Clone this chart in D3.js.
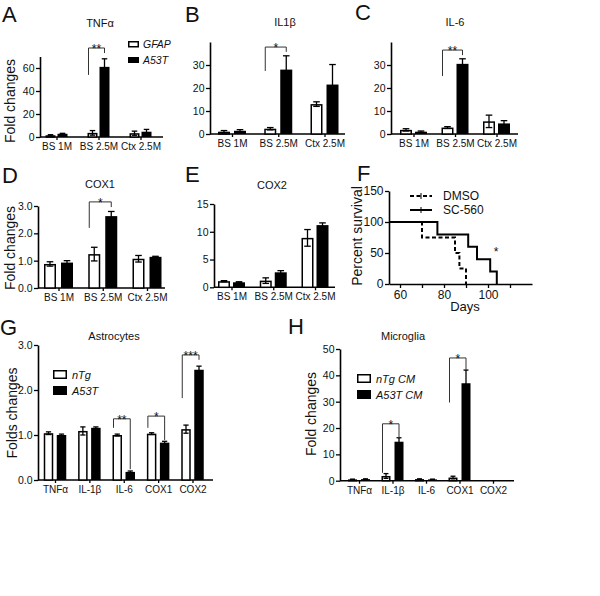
<!DOCTYPE html>
<html><head><meta charset="utf-8">
<script src="https://cdn.jsdelivr.net/npm/d3@7"></script>
<style>
body{margin:0;background:#fff}
svg{display:block}
text{font-family:"Liberation Sans",Arial,Helvetica,sans-serif;fill:#111}
</style>
</head><body>
<svg id="c" width="600" height="596"></svg>
<script>
// ---------------- data ----------------
const regionGroups = ["BS 1M", "BS 2.5M", "Ctx 2.5M"];
const legendAB = ["GFAP", "A53T"];

const tnfGFAP = [1.5, 3.6, 3.3],   tnfGFAPErr = [0.5, 2.0, 1.8];
const tnfA53T = [2.8, 61, 4.6],    tnfA53TErr = [0.4, 7, 2.0];

const il1GFAP = [1.0, 2.3, 13.0],  il1GFAPErr = [0.5, 0.5, 1.0];
const il1A53T = [1.4, 28, 21.5],   il1A53TErr = [0.5, 6, 8.7];

const il6GFAP = [1.8, 2.8, 5.5],   il6GFAPErr = [0.5, 0.4, 2.7];
const il6A53T = [1.0, 30.5, 4.6],  il6A53TErr = [0.3, 2.2, 1.2];

const cox1GFAP = [0.88, 1.24, 1.07], cox1GFAPErr = [0.08, 0.25, 0.12];
const cox1A53T = [0.93, 2.63, 1.14], cox1A53TErr = [0.07, 0.17, 0.02];

const cox2GFAP = [1.1, 1.2, 8.9],  cox2GFAPErr = [0.1, 0.5, 1.5];
const cox2A53T = [0.9, 2.7, 11.2], cox2A53TErr = [0.1, 0.3, 0.4];

const dmsoDays = [55, 70, 85, 87, 90];
const dmsoSurv = [100, 75, 50, 25, 0];
const scDays = [55, 77, 91, 95, 101, 104];
const scSurv = [100, 80, 60, 40, 20, 0];
const survivalLegend = ["DMSO", "SC-560"];

const cytokines = ["TNFα", "IL-1β", "IL-6", "COX1", "COX2"];
const astroNTg = [1.04, 1.09, 1.0, 1.03, 1.13],  astroNTgErr = [0.03, 0.09, 0.02, 0.02, 0.09];
const astroA53T = [1.0, 1.16, 0.18, 0.83, 2.45], astroA53TErr = [0.02, 0.02, 0.02, 0.03, 0.08];
const legendG = ["nTg", "A53T"];

const microNTg = [0.5, 1.8, 0.6, 1.2, 0],  microNTgErr = [0.1, 0.9, 0.1, 0.5, 0];
const microA53T = [0.6, 14.8, 0.5, 37, 0], microA53TErr = [0.1, 1.5, 0.1, 5, 0];
const legendH = ["nTg CM", "A53T CM"];

// ---------------- drawing ----------------
const svg = d3.select("#c");
svg.append("rect").attr("width", 600).attr("height", 596).attr("fill", "#fff");
const FS = 10;

function barPanel(o) {
  const g = svg.append("g");
  const x = d3.scalePoint().domain(o.cats).range([o.c0, o.c1]);
  const y = d3.scaleLinear().domain(o.dom).range([o.yb, o.yt]);
  const ya = g.append("g").attr("transform", `translate(${o.x0},0)`)
    .call(d3.axisLeft(y).tickValues(o.ticks).tickSize(4).tickSizeOuter(0).tickPadding(1.5));
  ya.select(".domain").attr("stroke-width", 1.6);
  ya.selectAll(".tick line").attr("stroke-width", 1.3);
  ya.selectAll(".tick text").attr("font-size", 10.5).attr("font-family", null).attr("fill", "#222");
  g.append("line").attr("x1", o.x0).attr("x2", o.x1).attr("y1", o.yb).attr("y2", o.yb)
    .attr("stroke", "#000").attr("stroke-width", 1.6);
  const xa = g.append("g").attr("transform", `translate(0,${o.yb})`)
    .call(d3.axisBottom(x).tickSize(3).tickPadding(3));
  xa.select(".domain").remove();
  xa.selectAll(".tick line").attr("stroke-width", 1.3);
  xa.selectAll(".tick text").attr("font-size", FS).attr("font-family", null).attr("fill", "#222");

  const rows = o.cats.map((c, i) => ({c, a: o.a[i], ae: o.ae[i], b: o.b[i], be: o.be[i]}));
  const ox = d => x(d.c) - o.gap / 2 - o.bw;
  const fx = d => x(d.c) + o.gap / 2;
  g.selectAll(".ob").data(rows).join("rect")
    .attr("x", d => ox(d) + 0.75).attr("width", o.bw - 1.5)
    .attr("y", d => y(d.a) + 0.75).attr("height", d => Math.max(0, y(0) - y(d.a) - 0.75))
    .attr("fill", "#fff").attr("stroke", "#000").attr("stroke-width", 1.5);
  g.selectAll(".fb").data(rows).join("rect")
    .attr("x", fx).attr("width", o.bw)
    .attr("y", d => y(d.b)).attr("height", d => y(0) - y(d.b))
    .attr("fill", "#000");
  const cw = o.bw * 0.55;
  function err(cx, v, e) {
    if (!e) return;
    g.append("line").attr("x1", cx).attr("x2", cx).attr("y1", y(v - e)).attr("y2", y(v + e))
      .attr("stroke", "#000").attr("stroke-width", 1.3);
    [v - e, v + e].forEach(t => g.append("line").attr("x1", cx - cw / 2).attr("x2", cx + cw / 2)
      .attr("y1", y(t)).attr("y2", y(t)).attr("stroke", "#000").attr("stroke-width", 1.3));
  }
  rows.forEach(d => { err(ox(d) + o.bw / 2, d.a, d.ae); err(fx(d) + o.bw / 2, d.b, d.be); });
  (o.br || []).forEach(b => {
    const r = rows.find(d => d.c === b.cat);
    const lx = ox(r) + 1, rx = fx(r) + o.bw / 2;
    g.append("path")
      .attr("d", `M${lx},${y(b.left)}V${y(b.top)}H${rx}V${y(b.right)}`)
      .attr("fill", "none").attr("stroke", "#333").attr("stroke-width", 1);
    g.append("text").attr("x", (lx + rx) / 2).attr("y", y(b.top) + 5)
      .attr("text-anchor", "middle").attr("font-size", 12).text(b.label);
  });
  return {x, y};
}

function txt(x, y, s, fs, opts = {}) {
  const t = svg.append("text").attr("x", x).attr("y", y).attr("font-size", fs).text(s);
  if (opts.anchor) t.attr("text-anchor", opts.anchor);
  if (opts.italic) t.attr("font-style", "italic");
  if (opts.rot) t.attr("transform", `rotate(-90,${x},${y})`);
  if (opts.fill) t.attr("fill", opts.fill);
  return t;
}

// Panel letters
[["A", 2, 22], ["B", 185, 22], ["C", 355, 20], ["D", 2, 183], ["E", 185, 182], ["F", 357, 181], ["G", 0, 335], ["H", 288, 334]]
  .forEach(([s, x, y]) => txt(x, y, s, 22));

// A
barPanel({cats: regionGroups, a: tnfGFAP, ae: tnfGFAPErr, b: tnfA53T, be: tnfA53TErr,
  x0: 40, x1: 163, yb: 137, yt: 56.5, dom: [0, 70], ticks: [0, 20, 40, 60], c0: 56.5, c1: 140.5, bw: 10, gap: 2,
  br: [{cat: "BS 2.5M", top: 77.4, left: 54, right: 73, label: "**"}]});
txt(100, 27, "TNFα", 11, {anchor: "middle"});
txt(15, 101, "Fold  changes", 14, {anchor: "middle", rot: true});
svg.append("rect").attr("x", 128.75).attr("y", 41.75).attr("width", 9.5).attr("height", 5).attr("fill", "#fff").attr("stroke", "#000").attr("stroke-width", 1.5);
svg.append("rect").attr("x", 128).attr("y", 57).attr("width", 11).attr("height", 6).attr("fill", "#000");
txt(143, 48, legendAB[0], 10.5, {italic: true});
txt(143, 64, legendAB[1], 10.5, {italic: true});

// B
barPanel({cats: regionGroups, a: il1GFAP, ae: il1GFAPErr, b: il1A53T, be: il1A53TErr,
  x0: 210, x1: 345, yb: 134, yt: 42, dom: [0, 40], ticks: [0, 10, 20, 30], c0: 232, c1: 324.5, bw: 12, gap: 4,
  br: [{cat: "BS 2.5M", top: 37.8, left: 27.4, right: 35.7, label: "*"}]});
txt(285, 26, "IL1β", 11, {anchor: "middle"});

// C
barPanel({cats: regionGroups, a: il6GFAP, ae: il6GFAPErr, b: il6A53T, be: il6A53TErr,
  x0: 391, x1: 518, yb: 134, yt: 42, dom: [0, 40], ticks: [0, 10, 20, 30], c0: 413.5, c1: 496.5, bw: 12, gap: 3,
  br: [{cat: "BS 2.5M", top: 36.5, left: 25.2, right: 34.3, label: "**"}]});
txt(455, 26, "IL-6", 11, {anchor: "middle"});

// D
barPanel({cats: regionGroups, a: cox1GFAP, ae: cox1GFAPErr, b: cox1A53T, be: cox1A53TErr,
  x0: 38, x1: 165, yb: 288, yt: 206, dom: [0, 3], ticks: [0, 1, 2, 3], c0: 58.5, c1: 147, bw: 12, gap: 5,
  br: [{cat: "BS 2.5M", top: 3.15, left: 2.2, right: 2.96, label: "*"}]});
txt(100, 188, "COX1", 11, {anchor: "middle"});
txt(15, 248, "Fold changes", 14, {anchor: "middle", rot: true});

// E
barPanel({cats: regionGroups, a: cox2GFAP, ae: cox2GFAPErr, b: cox2A53T, be: cox2A53TErr,
  x0: 214, x1: 335, yb: 287.3, yt: 204, dom: [0, 15], ticks: [0, 5, 10, 15], c0: 231.5, c1: 315, bw: 12, gap: 3});
txt(272, 189, "COX2", 11, {anchor: "middle"});

// F survival
(function () {
  const g = svg.append("g");
  const x = d3.scaleLinear().domain([55, 120]).range([389, 532]);
  const y = d3.scaleLinear().domain([0, 150]).range([284, 191]);
  const ya = g.append("g").attr("transform", "translate(389,0)")
    .call(d3.axisLeft(y).tickValues([0, 50, 100, 150]).tickSize(4).tickSizeOuter(0).tickPadding(1.5));
  ya.select(".domain").attr("stroke-width", 1.6);
  ya.selectAll(".tick text").attr("font-size", 12).attr("font-family", null).attr("fill", "#222");
  ya.selectAll(".tick line").attr("stroke-width", 1.3);
  const xa = g.append("g").attr("transform", "translate(0,284)")
    .call(d3.axisBottom(x).tickValues([60, 70, 80, 90, 100, 110]).tickSize(4).tickSizeOuter(0).tickPadding(2)
      .tickFormat(d => d % 20 === 0 ? d : ""));
  xa.select(".domain").attr("stroke-width", 1.6);
  xa.selectAll(".tick text").attr("font-size", 12).attr("font-family", null).attr("fill", "#222");
  xa.selectAll(".tick line").attr("stroke-width", 1.3);
  const line = d3.line().x(d => x(d[0])).y(d => y(d[1])).curve(d3.curveStepAfter);
  g.append("path").attr("d", line(dmsoDays.map((d, i) => [d, dmsoSurv[i]])))
    .attr("fill", "none").attr("stroke", "#000").attr("stroke-width", 2).attr("stroke-dasharray", "4,2.5");
  g.append("path").attr("d", line(scDays.map((d, i) => [d, scSurv[i]])))
    .attr("fill", "none").attr("stroke", "#000").attr("stroke-width", 2);
  txt(496, 256, "*", 12, {anchor: "middle", fill: "#555"});
  txt(362, 236, "Percent survival", 14, {anchor: "middle", rot: true});
  txt(465, 311, "Days", 13, {anchor: "middle"});
  g.append("line").attr("x1", 410).attr("x2", 432).attr("y1", 196).attr("y2", 196)
    .attr("stroke", "#000").attr("stroke-width", 2).attr("stroke-dasharray", "4,2.5");
  g.append("line").attr("x1", 421).attr("x2", 421).attr("y1", 193).attr("y2", 199).attr("stroke", "#000").attr("stroke-width", 1);
  g.append("line").attr("x1", 410).attr("x2", 432).attr("y1", 210).attr("y2", 210)
    .attr("stroke", "#000").attr("stroke-width", 2);
  g.append("line").attr("x1", 421).attr("x2", 421).attr("y1", 207).attr("y2", 213).attr("stroke", "#000").attr("stroke-width", 1);
  txt(443, 200, survivalLegend[0], 12);
  txt(443, 214, survivalLegend[1], 12);
})();

// G
barPanel({cats: cytokines, a: astroNTg, ae: astroNTgErr, b: astroA53T, be: astroA53TErr,
  x0: 38, x1: 213, yb: 480, yt: 345, dom: [0, 3], ticks: [0, 1, 2, 3], c0: 55, c1: 192.5, bw: 9.5, gap: 3.5,
  br: [{cat: "IL-6", top: 1.36, left: 1.16, right: 0.24, label: "**"},
       {cat: "COX1", top: 1.42, left: 1.16, right: 0.89, label: "*"},
       {cat: "COX2", top: 2.78, left: 1.82, right: 2.67, label: "***"}]});
txt(114, 340, "Astrocytes", 11, {anchor: "middle"});
txt(17, 413, "Folds changes", 14, {anchor: "middle", rot: true});
svg.append("rect").attr("x", 53.75).attr("y", 370.75).attr("width", 12.5).attr("height", 7.5).attr("fill", "#fff").attr("stroke", "#000").attr("stroke-width", 1.5);
svg.append("rect").attr("x", 53).attr("y", 386).attr("width", 14).attr("height", 9).attr("fill", "#000");
txt(72, 379, legendG[0], 11, {italic: true});
txt(72, 395, legendG[1], 11, {italic: true});

// H
barPanel({cats: cytokines, a: microNTg, ae: microNTgErr, b: microA53T, be: microA53TErr,
  x0: 340, x1: 514, yb: 480.7, yt: 349, dom: [0, 50], ticks: [0, 10, 20, 30, 40, 50], c0: 359, c1: 493, bw: 9, gap: 4,
  br: [{cat: "IL-1β", top: 21.6, left: 3.0, right: 16.2, label: "*"},
       {cat: "COX1", top: 46.6, left: 29.7, right: 42.1, label: "*"}]});
txt(403, 340, "Microglia", 11, {anchor: "middle"});
txt(316, 414, "Fold changes", 14, {anchor: "middle", rot: true});
svg.append("rect").attr("x", 357.75).attr("y", 374.75).attr("width", 12.5).attr("height", 7.5).attr("fill", "#fff").attr("stroke", "#000").attr("stroke-width", 1.5);
svg.append("rect").attr("x", 357).attr("y", 390).attr("width", 14).attr("height", 9).attr("fill", "#000");
txt(376, 383, legendH[0], 11, {italic: true});
txt(376, 399, legendH[1], 11, {italic: true});
</script>
</body></html>
